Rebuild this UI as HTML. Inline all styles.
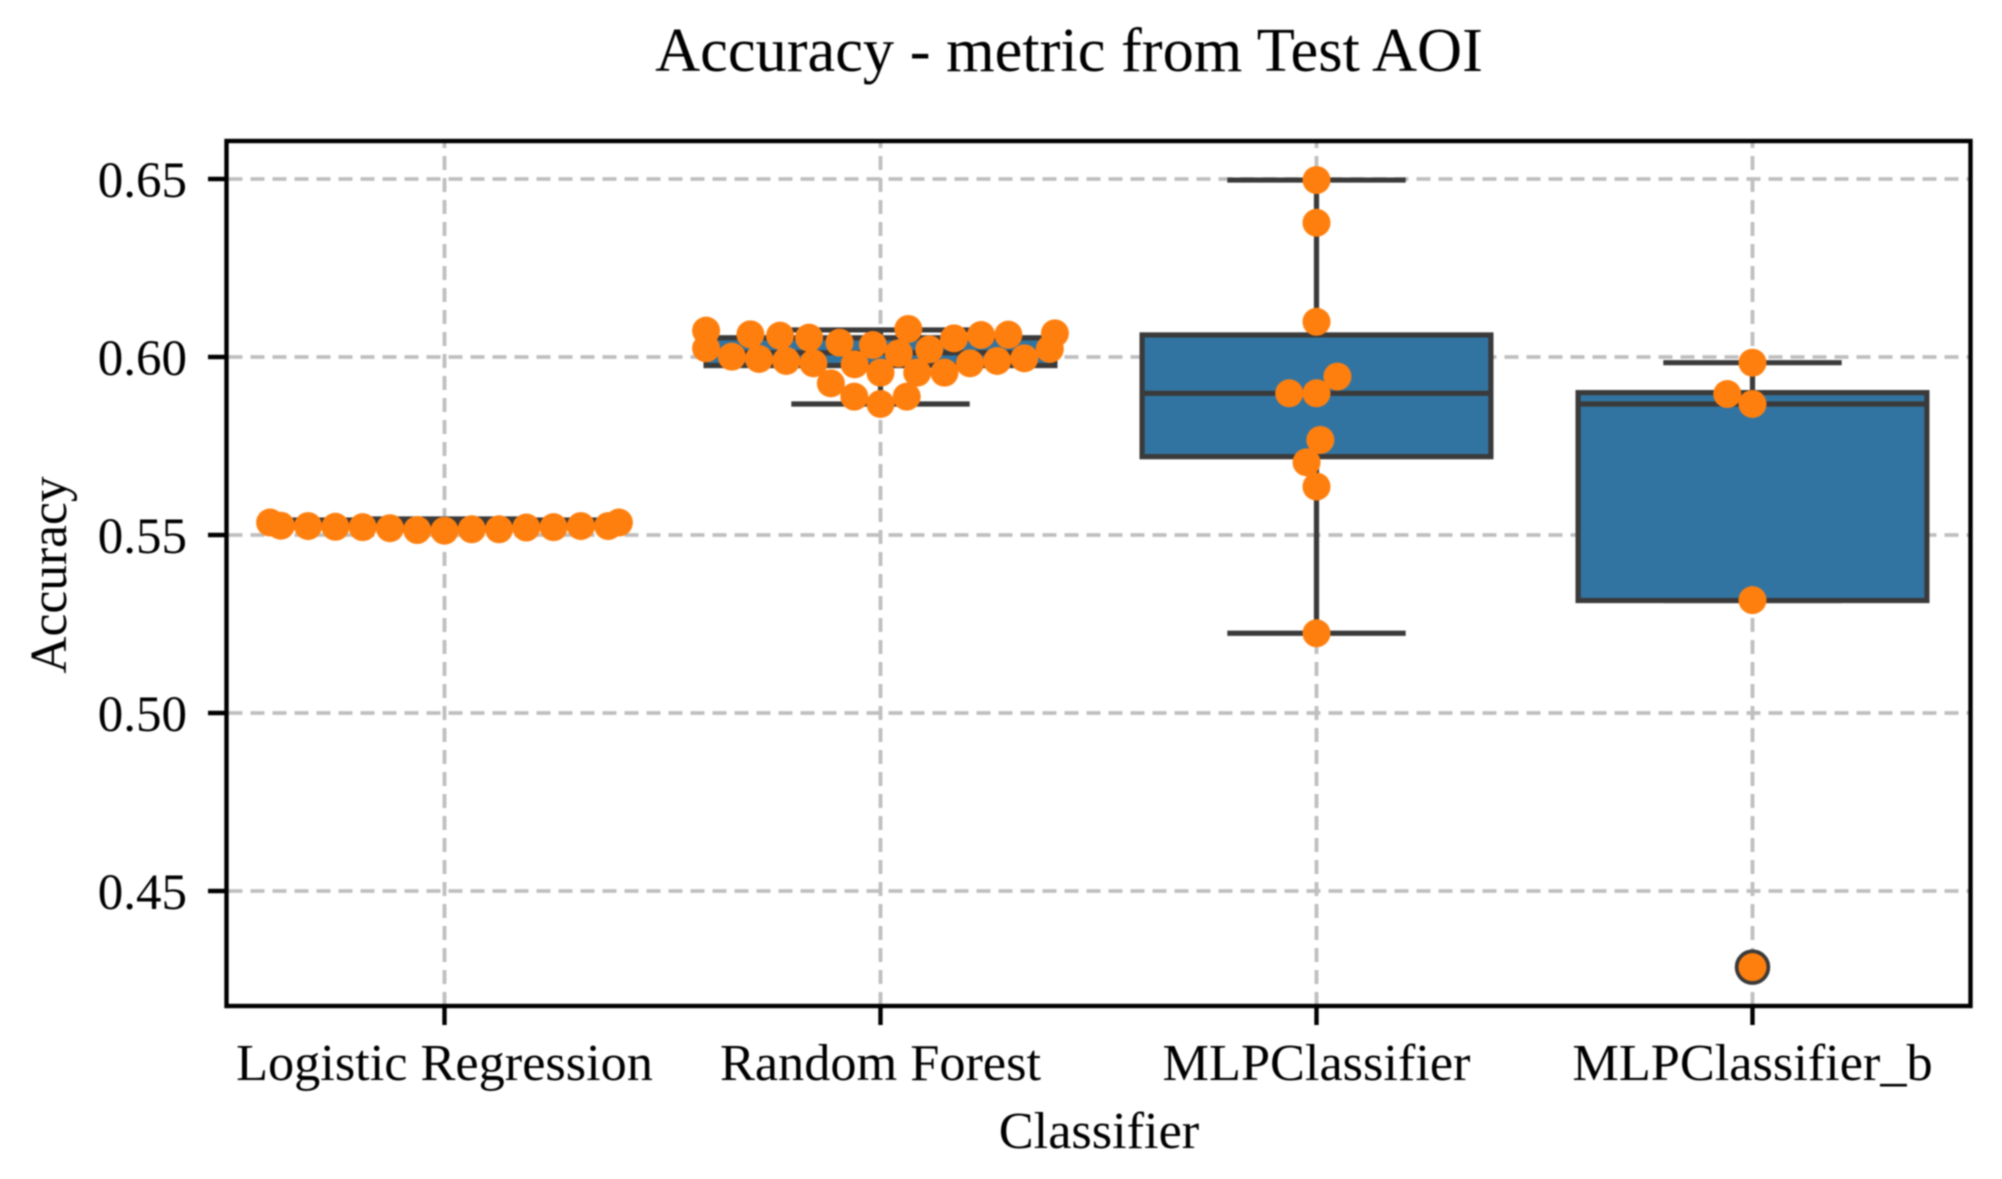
<!DOCTYPE html>
<html lang="en">
<head>
<meta charset="utf-8">
<title>Accuracy - metric from Test AOI</title>
<style>
html,body{margin:0;padding:0;background:#fff;width:2002px;height:1179px;overflow:hidden}
svg{display:block;filter:blur(0.9px)}
text{font-family:"Liberation Serif","Times New Roman",serif;fill:#000}
</style>
</head>
<body>
<svg id="chart" xmlns="http://www.w3.org/2000/svg" width="2002" height="1179" viewBox="0 0 2002 1179"></svg>
<script>
const categories = ["Logistic Regression", "Random Forest", "MLPClassifier", "MLPClassifier_b"];
const yTickValues = [0.45, 0.50, 0.55, 0.60, 0.65];
const yTickLabels = ["0.45", "0.50", "0.55", "0.60", "0.65"];
const chartTitle = "Accuracy - metric from Test AOI";
const xAxisTitle = "Classifier";
const yAxisTitle = "Accuracy";

const logisticValues = [0.5512, 0.5514, 0.5516, 0.5516, 0.5519, 0.5521, 0.5522, 0.5522, 0.5523, 0.5525, 0.5525, 0.5525, 0.5526, 0.5535, 0.5535];
const forestValues = [0.5868, 0.58886, 0.58886, 0.5926, 0.5956, 0.5956, 0.5956, 0.59794, 0.59822, 0.59822, 0.59888, 0.59888, 0.59944, 0.59963, 0.60009, 0.60103, 0.60215, 0.60225, 0.60243, 0.60337, 0.60403, 0.60524, 0.60543, 0.60599, 0.60618, 0.60627, 0.60637, 0.60665, 0.6074, 0.60787];
const mlpValues = [0.5224, 0.5636, 0.5704, 0.5767, 0.5898, 0.5898, 0.5945, 0.6099, 0.6377, 0.6497];
const mlpBValues = [0.4286, 0.5317, 0.5868, 0.5896, 0.5984];
const seriesValues = [logisticValues, forestValues, mlpValues, mlpBValues];

const boxQ1 = [0.5522, 0.5976, 0.5720, 0.5316];
const boxMedian = [0.5530, 0.6012, 0.5898, 0.5868];
const boxQ3 = [0.5542, 0.6054, 0.6062, 0.5900];
const whiskerLow = [0.5522, 0.5868, 0.5224, 0.5316];
const whiskerHigh = [0.5545, 0.6076, 0.6497, 0.5984];
const outlierValues = [null, null, null, 0.4286];

const NS = "http://www.w3.org/2000/svg";
const svg = document.getElementById("chart");
const axisLeft = 226.5, axisRight = 1970.5, axisTop = 141, axisBottom = 1006;
const bandWidth = (axisRight - axisLeft) / categories.length;
const xScale = i => axisLeft + bandWidth * (i + 0.5);
const yScale = v => 179 + (0.65 - v) * 3560;
const dotRadius = 14, swarmRadius = 13;
const lineColor = "#3a3a3a", boxFill = "#3274a1", dotFill = "#ff7f0e", gridColor = "#bfbfbf";

function make(tag, attrs, parent) {
  const el = document.createElementNS(NS, tag);
  for (const k in attrs) el.setAttribute(k, attrs[k]);
  (parent || svg).appendChild(el);
  return el;
}
function swarm(values, center) {
  const sorted = values.slice().sort((a, b) => a - b);
  const placed = [];
  const limit = bandWidth * 0.4;
  sorted.forEach(v => {
    const py = yScale(v);
    const neighbors = placed.filter(p => Math.abs(p.y - py) < 2 * swarmRadius);
    const candidates = [center];
    let leftFirst = true;
    neighbors.forEach(n => {
      const dy = py - n.y;
      const dx = Math.sqrt(Math.max(4 * swarmRadius * swarmRadius - dy * dy, 0)) * 1.05;
      if (leftFirst) { candidates.push(n.x - dx, n.x + dx); } else { candidates.push(n.x + dx, n.x - dx); }
      leftFirst = !leftFirst;
    });
    const order = candidates.map((x, i) => ({x, i})).sort((a, b) => (Math.abs(a.x - center) - Math.abs(b.x - center)) || (a.i - b.i));
    let chosen = order[order.length - 1].x;
    for (const c of order) {
      const ok = neighbors.every(n => {
        const ddx = c.x - n.x, ddy = py - n.y;
        return ddx * ddx + ddy * ddy >= 4 * swarmRadius * swarmRadius - 1e-6;
      });
      if (ok) { chosen = c.x; break; }
    }
    placed.push({x: chosen, y: py, v: v});
  });
  return placed.map(p => ({x: Math.min(center + limit, Math.max(center - limit, p.x)), y: p.y}));
}

/* grid */
const gridGroup = make("g", {});


yTickValues.forEach(v => {
  const g = make("line", {x1: axisLeft + 2, x2: axisRight - 2, y1: yScale(v), y2: yScale(v), stroke: gridColor, "stroke-width": 3.8, "stroke-dasharray": "14 8"}, gridGroup);
  
  
});
categories.forEach((c, i) => {
  const g = make("line", {x1: xScale(i), x2: xScale(i), y1: axisBottom, y2: axisTop, stroke: gridColor, "stroke-width": 3.8, "stroke-dasharray": "14 8"}, gridGroup);
  
  
});

/* boxes */
categories.forEach((c, i) => {
  const cx = xScale(i);
  const capHalf = bandWidth * 0.2 + 2, boxHalf = bandWidth * 0.4;
  const group = make("g", {});
  
  

  const wh = make("line", {x1: cx, x2: cx, y1: yScale(whiskerHigh[i]), y2: yScale(boxQ3[i]), stroke: lineColor, "stroke-width": 5.2}, group);
  
  
  const wl = make("line", {x1: cx, x2: cx, y1: yScale(boxQ1[i]), y2: yScale(whiskerLow[i]), stroke: lineColor, "stroke-width": 5.2}, group);
  
  
  const ch = make("line", {x1: cx - capHalf, x2: cx + capHalf, y1: yScale(whiskerHigh[i]), y2: yScale(whiskerHigh[i]), stroke: lineColor, "stroke-width": 5.2}, group);
  
  
  const cl = make("line", {x1: cx - capHalf, x2: cx + capHalf, y1: yScale(whiskerLow[i]), y2: yScale(whiskerLow[i]), stroke: lineColor, "stroke-width": 5.2}, group);
  
  
  const box = make("rect", {x: cx - boxHalf, y: yScale(boxQ3[i]), width: boxHalf * 2, height: yScale(boxQ1[i]) - yScale(boxQ3[i]), fill: boxFill, stroke: lineColor, "stroke-width": 5.2}, group);
  
  
  const med = make("line", {x1: cx - boxHalf, x2: cx + boxHalf, y1: yScale(boxMedian[i]), y2: yScale(boxMedian[i]), stroke: lineColor, "stroke-width": 5.2}, group);
  
  
  if (outlierValues[i] !== null) {
    const o = make("circle", {cx: cx, cy: yScale(outlierValues[i]), r: 16, fill: "#3a3a3a", stroke: lineColor, "stroke-width": 3.5}, group);
    
    
  }
});

/* swarm points */
seriesValues.forEach((vals, i) => {
  const group = make("g", {});
  
  
  swarm(vals, xScale(i)).forEach(p => {
    const d = make("circle", {cx: p.x, cy: p.y, r: dotRadius, fill: dotFill}, group);
    
    
  });
});

/* frame and ticks */
const frame = make("rect", {x: axisLeft, y: axisTop, width: axisRight - axisLeft, height: axisBottom - axisTop, fill: "none", stroke: "#000", "stroke-width": 4.4});



yTickValues.forEach((v, i) => {
  const t = make("line", {x1: 208, x2: axisLeft, y1: yScale(v), y2: yScale(v), stroke: "#000", "stroke-width": 4.4});
  
  
  const l = make("text", {x: 187, y: yScale(v) + 18, "text-anchor": "end", "font-size": 51});
  
  
  l.textContent = yTickLabels[i];
});
categories.forEach((c, i) => {
  const t = make("line", {x1: xScale(i), x2: xScale(i), y1: axisBottom, y2: 1025, stroke: "#000", "stroke-width": 4.4});
  
  
  const l = make("text", {x: xScale(i), y: 1080, "text-anchor": "middle", "font-size": 52.3});
  
  
  l.textContent = c;
});

const title = make("text", {x: 1073, y: 71, "text-anchor": "middle", "font-size": 62.4, transform: "translate(-4 0)"});


title.textContent = chartTitle;

const xTitle = make("text", {x: 1099, y: 1148, "text-anchor": "middle", "font-size": 52.3});


xTitle.textContent = xAxisTitle;

const yTitle = make("text", {x: 0, y: 0, "text-anchor": "middle", "font-size": 51.5, transform: "translate(66 575) rotate(-90)"});


yTitle.textContent = yAxisTitle;
</script>
</body>
</html>
